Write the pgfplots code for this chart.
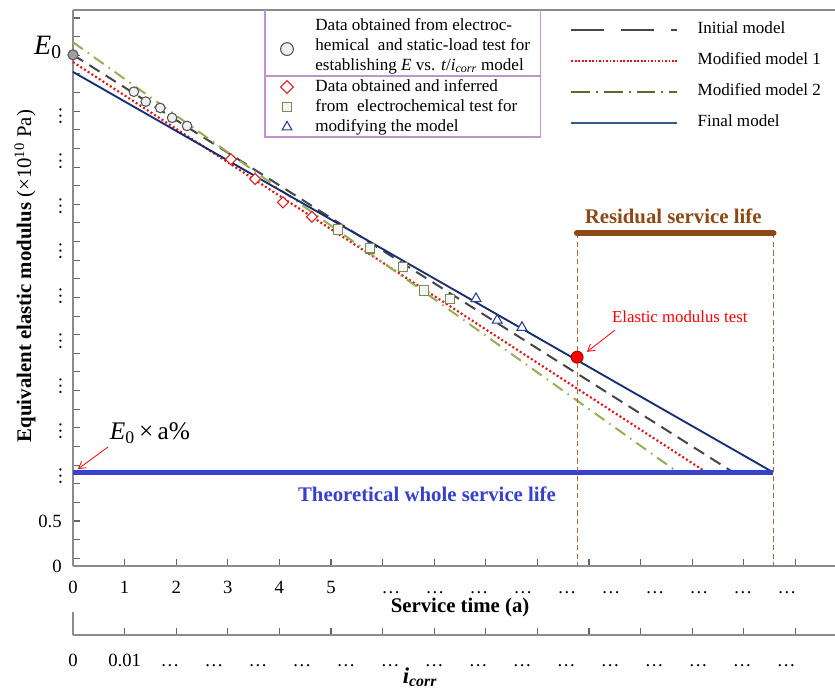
\documentclass[border=0pt]{standalone}
\usepackage{pgfplots}
\pgfplotsset{compat=1.18}
\usepackage{fontspec}
\setmainfont{Liberation Serif}
\usepackage{graphicx}
\usetikzlibrary{arrows.meta}

\definecolor{initc}{RGB}{70,70,70}
\definecolor{modone}{RGB}{225,20,20}
\definecolor{modtwo}{RGB}{150,175,85}
\definecolor{modtwoL}{RGB}{95,105,45}
\definecolor{finalc}{RGB}{25,45,115}
\definecolor{finalL}{RGB}{55,90,140}
\definecolor{theo}{RGB}{55,65,205}
\definecolor{brownc}{RGB}{140,72,22}
\definecolor{vdash}{RGB}{175,105,55}
\definecolor{legpurple}{RGB}{195,145,205}
\definecolor{axgray}{RGB}{140,140,140}
\definecolor{tickgray}{RGB}{100,100,100}
\definecolor{circE}{RGB}{85,85,85}
\definecolor{sqE}{RGB}{120,140,80}
\definecolor{triE}{RGB}{40,60,140}
\definecolor{diaE}{RGB}{225,30,30}

\newcommand{\vd}{\rotatebox{90}{\dots}}

\begin{document}
\begin{tikzpicture}
% ---------------- main axis ----------------
\begin{axis}[
  at={(0,0)}, anchor=south west,
  scale only axis, width=571.5pt, height=417pt,
  xmin=0, xmax=14.767, ymin=0, ymax=6.178,
  clip=false,
  axis x line*=bottom, axis y line*=left,
  axis line style={axgray, line width=1pt, -},
  tick style={draw=tickgray, line width=0.8pt},
  tick align=inside,
  major tick length=5pt,
  xtick={0,...,14},
  xticklabels={0,1,2,3,4,5},
  extra x ticks={6.16,7.013,7.866,8.719,9.572,10.425,11.278,12.131,12.984,13.837},
  extra x tick labels={\dots,\dots,\dots,\dots,\dots,\dots,\dots,\dots,\dots,\dots},
  extra x tick style={major tick length=0pt},
  xticklabel style={font=\fontsize{14}{14}\selectfont, text height=9.5pt, text depth=0pt, yshift=-7.75pt},
  ytick={0.086,0.293,...,6.1},
  yticklabels={},
  extra y ticks={0,0.5,1,1.5,2,2.5,3,3.5,4,4.5,5},
  extra y tick labels={0,0.5,\vd,\vd,\vd,\vd,\vd,\vd,\vd,\vd,\vd},
  extra y tick style={major tick length=0pt},
  yticklabel style={font=\fontsize{14}{14}\selectfont, xshift=-5pt},
  xlabel={Service time (a)},
  xlabel style={at={(rel axis cs:0.508,-0.0755)}, anchor=center, font=\bfseries\fontsize{15.6}{16}\selectfont},
  ylabel={\textbf{Equivalent elastic modulus} (×10\textsuperscript{10} Pa)},
  ylabel style={at={(rel axis cs:-0.063,0.5216)}, anchor=center, font=\fontsize{15.6}{16}\selectfont},
]
% top border
\draw[axgray, line width=1pt] (rel axis cs:0,1) -- (rel axis cs:1,1);
% legend frame
\draw[legpurple, line width=0.8pt] (rel axis cs:0.252,1) -- (rel axis cs:0.252,0.7716) -- (rel axis cs:0.6129,0.7716) -- (rel axis cs:0.6129,1);
\draw[legpurple, line width=0.8pt] (rel axis cs:0.252,0.8813) -- (rel axis cs:0.6129,0.8813);

% model lines
\addplot[initc, line width=1.5pt, dash pattern=on 9pt off 5.5pt] coordinates {(0,5.68) (12.77,1.05)};
\addplot[modone, line width=1.6pt, dash pattern=on 1.5pt off 1.8pt] coordinates {(0,5.60) (12.25,1.05)};
\addplot[modtwo, line width=1.5pt, dash pattern=on 9pt off 4.5pt on 1.2pt off 4.5pt] coordinates {(0,5.82) (11.7,1.05)};
\addplot[finalc, line width=1.4pt] coordinates {(0,5.49) (13.57,1.04)};
\addplot[theo, line width=4.3pt] coordinates {(0,1.04) (13.57,1.04)};

% residual life
\addplot[vdash, line width=0.9pt, dash pattern=on 4pt off 2.5pt] coordinates {(9.77,3.70) (9.77,0)};
\addplot[vdash, line width=0.9pt, dash pattern=on 4pt off 2.5pt] coordinates {(13.57,3.70) (13.57,0)};
\addplot[brownc, line width=5pt, line cap=round] coordinates {(9.77,3.70) (13.57,3.70)};

% data points
\addplot[only marks, mark=*, mark size=3.6pt, mark options={draw=circE, fill=gray!12, line width=0.8pt}]
  coordinates {(1.18,5.27) (1.41,5.16) (1.69,5.09) (1.92,4.98) (2.21,4.89)};
\addplot[only marks, mark=*, mark size=3.8pt, mark options={draw=gray!70!black, fill=gray!75, line width=0.8pt}]
  coordinates {(0,5.68)};
\addplot[only marks, mark=square*, mark size=2.9pt, mark options={rotate=45, draw=diaE, fill=white, line width=0.8pt}]
  coordinates {(3.06,4.52) (3.53,4.30) (4.07,4.04) (4.63,3.88)};
\addplot[only marks, mark=square*, mark size=3.5pt, mark options={draw=sqE, fill=gray!8, line width=0.8pt}]
  coordinates {(5.14,3.74) (5.76,3.53) (6.40,3.32) (6.80,3.06) (7.31,2.97)};
\addplot[only marks, mark=triangle*, mark size=4.3pt, mark options={draw=triE, fill=white, line width=0.8pt}]
  coordinates {(7.81,2.97) (8.22,2.73) (8.70,2.65)};
\addplot[only marks, mark=*, mark size=4.5pt, mark options={draw=red!60!black, fill=red, line width=0.6pt}]
  coordinates {(9.77,2.32)};

% annotations
\node[font=\bfseries\fontsize{15.6}{16}\selectfont, text=brownc] at (axis cs:11.63,3.89) {Residual service life};
\node[font=\bfseries\fontsize{15.6}{16}\selectfont, text=theo] at (axis cs:6.86,0.80) {Theoretical whole service life};
\node[font=\fontsize{12.6}{13}\selectfont, text=red] at (axis cs:11.76,2.77) {Elastic modulus test};
\draw[red, line width=0.6pt, -{Straight Barb[length=5pt,width=6pt]}] (axis cs:10.50,2.62) -- (axis cs:9.96,2.38);
\node[font=\fontsize{19}{19}\selectfont] at (axis cs:1.49,1.478) {\textit{E}\textsubscript{0}\,×\,a\%};
\draw[red, line width=0.6pt, -{Straight Barb[length=5pt,width=6pt]}] (axis cs:0.678,1.322) -- (axis cs:0.097,1.078);
\node[anchor=east, inner sep=0pt, font=\fontsize{21}{21}\selectfont] at (axis cs:-0.213,5.76) {\textit{E}\textsubscript{0}};
\end{axis}

% ---------------- i_corr axis ----------------
\begin{axis}[
  at={(0,-51.75pt)}, anchor=south west,
  scale only axis, width=571.5pt, height=17.25pt,
  xmin=0, xmax=14.767, ymin=0, ymax=1,
  axis x line*=bottom, axis y line*=left,
  axis line style={axgray, line width=1pt, -},
  tick style={draw=tickgray, line width=0.8pt},
  tick align=inside, major tick length=5pt,
  ytick=\empty,
  xtick={0,...,14},
  xticklabels={0,0.01},
  extra x ticks={1.88,2.733,3.586,4.439,5.292,6.145,6.998,7.851,8.704,9.557,10.41,11.263,12.116,12.969,13.822},
  extra x tick labels={\dots,\dots,\dots,\dots,\dots,\dots,\dots,\dots,\dots,\dots,\dots,\dots,\dots,\dots,\dots},
  extra x tick style={major tick length=0pt},
  xticklabel style={font=\fontsize{14}{14}\selectfont, text height=9.5pt, text depth=0pt, yshift=-10.75pt},
  xlabel={\textbf{\textit{i}}\textsubscript{\textbf{\textit{corr}}}},
  xlabel style={at={(rel axis cs:0.4554,-1.826)}, anchor=center, font=\fontsize{17}{17}\selectfont},
]
\end{axis}

% ---------------- legend A ----------------
\begin{axis}[
  at={(0,0)}, anchor=south west,
  scale only axis, width=571.5pt, height=417pt,
  xmin=0, xmax=1, ymin=0, ymax=1, hide axis,
  legend cell align=left,
  legend style={at={(rel axis cs:0.2721,0.9892)}, anchor=north west, draw=none, fill=none, inner sep=0pt,
    font=\fontsize{12.8}{15}\selectfont, nodes={inner sep=0pt},
    /tikz/every odd column/.append style={column sep=16.5pt}},
]
\addlegendimage{only marks, mark=*, mark size=4.8pt, mark options={yshift=-5pt, draw=circE, fill=gray!12, line width=0.8pt}}
\addlegendentry{\raisebox{12.25pt}{\begin{tabular}{@{}l@{}}Data obtained from electroc-\\hemical\ \ and static-load test for\\establishing \textit{E} vs. \textit{t}/\textit{i}\textsubscript{\textit{corr}} model\end{tabular}}}
\end{axis}

% ---------------- legend B ----------------
\begin{axis}[
  at={(0,0)}, anchor=south west,
  scale only axis, width=571.5pt, height=417pt,
  xmin=0, xmax=1, ymin=0, ymax=1, hide axis,
  legend cell align=left,
  legend style={at={(rel axis cs:0.2721,0.8255)}, anchor=west, draw=none, fill=none, inner sep=0pt,
    font=\fontsize{12.8}{15}\selectfont, nodes={inner sep=0pt, text height=9pt, text depth=3pt}, row sep=3pt,
    /tikz/every odd column/.append style={column sep=16.5pt}},
]
\addlegendimage{only marks, mark=square*, mark size=3.4pt, mark options={rotate=45, draw=diaE, fill=white, line width=0.8pt}}
\addlegendentry{Data obtained and inferred}
\addlegendimage{only marks, mark=square*, mark size=3.6pt, mark options={draw=sqE, fill=gray!8, line width=0.8pt}}
\addlegendentry{from\ \ electrochemical test for}
\addlegendimage{only marks, mark=triangle*, mark size=4.2pt, mark options={draw=triE, fill=white, line width=0.8pt}}
\addlegendentry{modifying the model}
\end{axis}

% ---------------- legend C ----------------
\begin{axis}[
  at={(0,0)}, anchor=south west,
  scale only axis, width=571.5pt, height=417pt,
  xmin=0, xmax=1, ymin=0, ymax=1, hide axis,
  legend cell align=left,
  legend image code/.code={\draw[#1] (0pt,0pt) -- (79.5pt,0pt);},
  legend style={at={(rel axis cs:0.6522,0.8804)}, anchor=west, draw=none, fill=none, inner sep=0pt,
    font=\fontsize{12.8}{15}\selectfont, nodes={inner sep=0pt, text height=9pt, text depth=3pt}, row sep=11.25pt,
    /tikz/every odd column/.append style={column sep=14.25pt}},
]
\addlegendimage{initc, line width=1.8pt, dash pattern=on 24.75pt off 12.75pt}
\addlegendentry{Initial model}
\addlegendimage{modone, line width=1.8pt, dash pattern=on 1.3pt off 1.3pt}
\addlegendentry{Modified model 1}
\addlegendimage{modtwoL, line width=1.8pt, dash pattern=on 14pt off 4.5pt on 1.5pt off 4.5pt}
\addlegendentry{Modified model 2}
\addlegendimage{finalL, line width=1.8pt}
\addlegendentry{Final model}
\end{axis}

\pgfresetboundingbox
\useasboundingbox (-54.75pt,-91.5pt) rectangle (571.5pt,424.5pt);
\end{tikzpicture}
\end{document}
